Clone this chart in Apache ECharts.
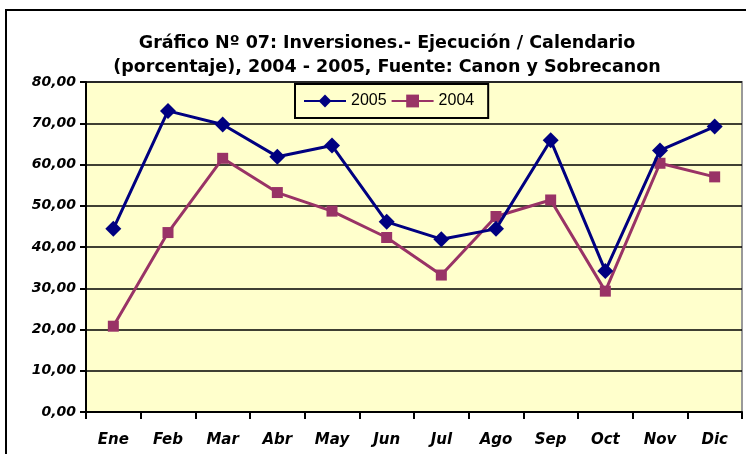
<!DOCTYPE html>
<html><head><meta charset="utf-8">
<script src="https://cdn.jsdelivr.net/npm/echarts@6/dist/echarts.min.js"></script>
<style>html,body{margin:0;padding:0;background:#fff}#c{width:746px;height:454px}</style>
</head><body><div id="c"></div>
<script>
const categories = ['Ene','Feb','Mar','Abr','May','Jun','Jul','Ago','Sep','Oct','Nov','Dic'];
const series2005 = [44.4, 73.0, 69.7, 61.9, 64.6, 46.1, 41.9, 44.4, 65.9, 34.2, 63.4, 69.2];
const series2004 = [20.8, 43.5, 61.5, 53.2, 48.7, 42.3, 33.2, 47.4, 51.4, 29.3, 60.3, 57.0];
const titleLines = ['Gráfico Nº 07: Inversiones.- Ejecución / Calendario', '(porcentaje), 2004 - 2005, Fuente: Canon y Sobrecanon'];

const chart = echarts.init(document.getElementById('c'), null, {renderer:'canvas'});
chart.setOption({
  backgroundColor:'#fff',
  animation:false,
  title:{
    text: titleLines.join('\n'),
    left: 382, top: 26, textAlign:'center',
    textStyle:{fontFamily:'DejaVu Sans', fontWeight:'bold', fontSize:17.5, lineHeight:24, color:'#000'}
  },
  graphic:[{type:'rect', shape:{x:6,y:10,width:800,height:500}, style:{fill:'none', stroke:'#000', lineWidth:2}, z:100}],
  legend:{
    left:295, top:84,
    padding:[9,14,9,8], itemGap:4, itemWidth:42, itemHeight:16,
    borderColor:'#000', borderWidth:2, backgroundColor:'#FFFFCC',
    textStyle:{fontFamily:'Liberation Sans', fontSize:16, color:'#000'},
    data:['2005','2004']
  },
  grid:{left:86, right:4, top:82, bottom:42, show:true, backgroundColor:'#FFFFCC', borderColor:'#999', borderWidth:2},
  xAxis:{
    type:'category', data:categories, boundaryGap:true,
    axisLine:{lineStyle:{color:'#000', width:2}},
    axisTick:{show:true, length:7, lineStyle:{color:'#000', width:2}},
    axisLabel:{fontFamily:'DejaVu Sans', fontWeight:'bold', fontStyle:'italic', fontSize:15, color:'#000', margin:21}
  },
  yAxis:{
    type:'value', min:0, max:80, interval:10,
    axisLine:{show:true, lineStyle:{color:'#000', width:2}},
    axisTick:{show:true, length:6, lineStyle:{color:'#000', width:2}},
    splitLine:{lineStyle:{color:'#000', width:1.5}},
    axisLabel:{fontFamily:'DejaVu Sans', fontWeight:'bold', fontStyle:'italic', fontSize:14, color:'#000', margin:10,
      formatter:v=>v.toFixed(2).replace('.',',')}
  },
  series:[
    {name:'2005', type:'line', data:series2005, symbol:'diamond', symbolSize:16,
      lineStyle:{color:'#000080', width:3}, itemStyle:{color:'#000080'}, z:3},
    {name:'2004', type:'line', data:series2004, symbol:'rect', symbolSize:11,
      lineStyle:{color:'#993366', width:3}, itemStyle:{color:'#993366'}, z:2}
  ]
});
</script></body></html>
